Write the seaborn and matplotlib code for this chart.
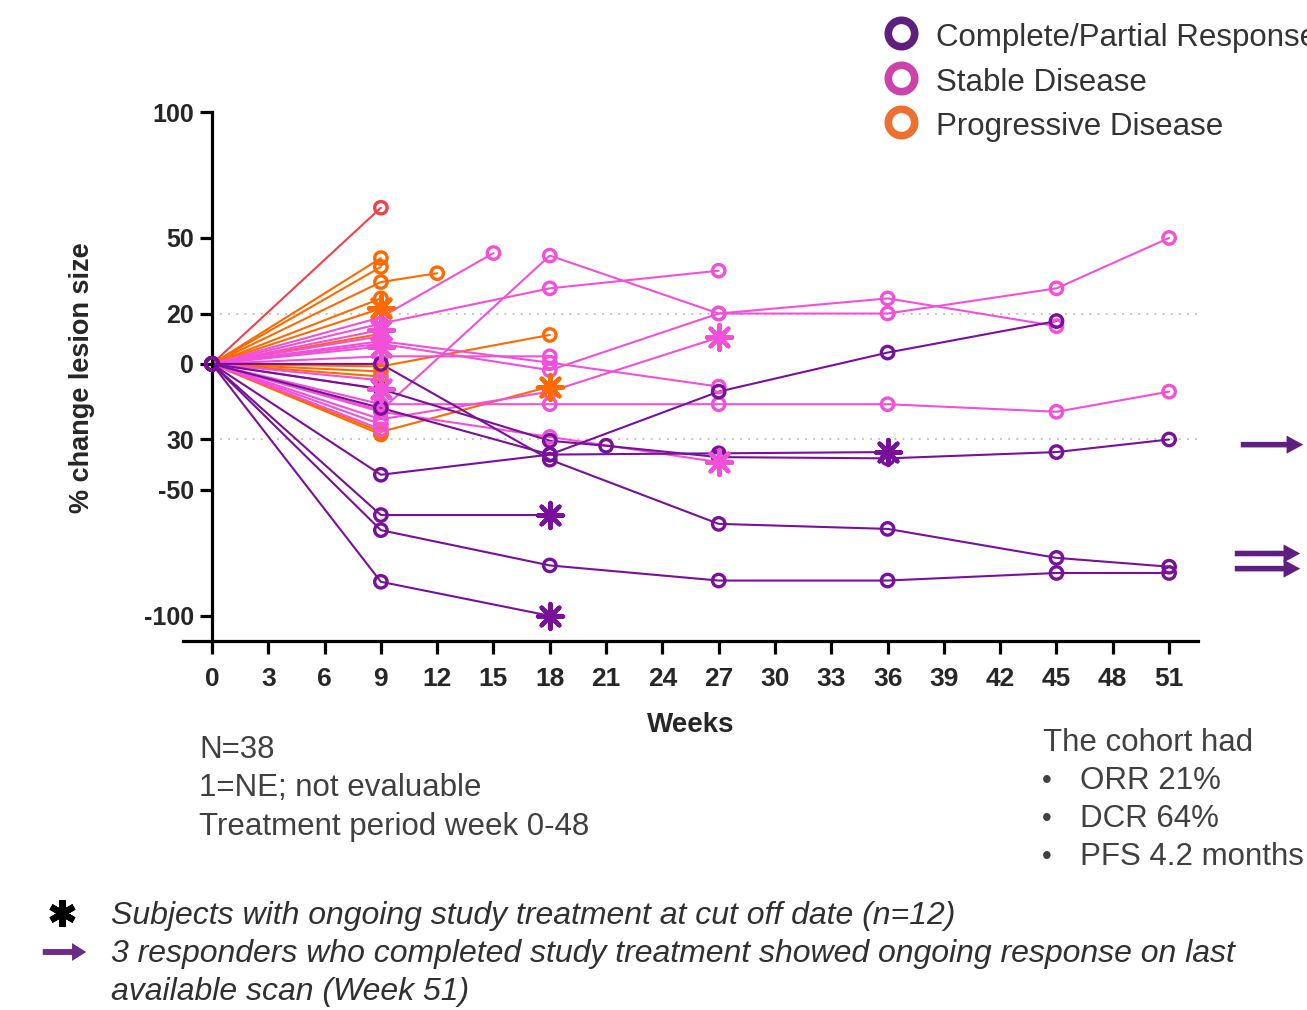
import numpy as np
import pandas as pd
import matplotlib
matplotlib.use('Agg')
from matplotlib import pyplot as plt
from matplotlib.lines import Line2D
from matplotlib.patches import FancyArrowPatch
import seaborn as sns

# ---- data: (weeks, % change, ongoing at cut-off) per subject ----
cr_subjects = [
    ([0, 9, 18, 27, 36], [0, -44, -36, -35.5, -35], True),
    ([0, 9, 18, 27, 36, 45], [0, -17.5, -36, -11, 4.5, 17], False),
    ([0, 9, 18], [0, -60, -60], True),
    ([0, 9, 18, 27, 36, 45, 51], [0, -66, -80, -86, -86, -83, -83], False),
    ([0, 9, 18], [0, -86.5, -100], True),
    ([0, 9, 18, 27, 36, 45, 51], [0, 0, -38, -63.5, -65.5, -77, -80.5], False),
    ([0, 9, 18, 21, 27, 36, 45, 51], [0, -10, -30.5, -32.5, -37, -37.5, -35, -30], False),
]
sd_subjects = [
    ([0, 9, 15], [0, 18.5, 44], False),
    ([0, 9, 18, 27, 36, 45, 51], [0, -18.5, 43, 20, 20, 30, 50], False),
    ([0, 9, 18, 27], [0, 16, 30, 37], False),
    ([0, 9, 18, 27, 36, 45], [0, 8, -2.5, 20, 26, 15], False),
    ([0, 9, 18, 27], [0, -22, -11, 10.5], True),
    ([0, 9, 18, 27, 36, 45, 51], [0, -16, -16, -16, -16, -19, -11], False),
    ([0, 9, 18, 27], [0, 9, 0.5, -9], False),
    ([0, 9, 18, 27], [0, -19, -29, -39], True),
    ([0, 9], [0, 13.5], True),
    ([0, 9], [0, 6.9], True),
    ([0, 9], [0, -10], True),
    ([0, 9], [0, 11], False),
    ([0, 9], [0, -6.5], False),
    ([0, 9], [0, -24], False),
    ([0, 9], [0, -26], False),
    ([0, 9, 18], [0, 3, 3], False),
]
pd_subjects = [
    ([0, 9], [0, 42], False),
    ([0, 9], [0, 38.5], False),
    ([0, 9, 12], [0, 32.5, 36], False),
    ([0, 9], [0, 26], False),
    ([0, 9], [0, 22], True),
    ([0, 9, 18], [0, -1, 11.5], False),
    ([0, 9, 18], [0, -27, -9], True),
    ([0, 9], [0, 12], False),
    ([0, 9], [0, -3], False),
    ([0, 9], [0, -5], False),
    ([0, 9], [0, -28], False),
]
ne_subjects = [
    ([0, 9], [0, 62], False),
]

group_colors = {'PD': '#FF6A00', 'NE': '#F2404C', 'SD': '#F250D8', 'CR': '#78109C'}
group_order = ['PD', 'NE', 'SD', 'CR']

ytick_vals = [100, 50, 20, 0, -30, -50, -100]
ytick_labels = ['100', '50', '20', '0', '30', '-50', '-100']
xtick_vals = list(range(0, 52, 3))

legend_labels = ['Complete/Partial Response', 'Stable Disease', 'Progressive Disease']
legend_colors = ['#5E1F7E', '#CC44AA', '#EE7030']
arrow_values = [-32, -75.2, -81.2]

# ---- long table ----
rows = []
sid = 0
for grp, subjects in [('PD', pd_subjects), ('NE', ne_subjects), ('SD', sd_subjects), ('CR', cr_subjects)]:
    for weeks, vals, ongoing in subjects:
        for i, (w, v) in enumerate(zip(weeks, vals)):
            rows.append(dict(subject=sid, group=grp, week=w, change=v,
                             star=(ongoing and i == len(weeks) - 1)))
        sid += 1
df = pd.DataFrame(rows)

sns.set_theme(style='ticks')
plt.rcParams['font.family'] = ['Liberation Sans', 'DejaVu Sans']

W, H = 1307, 1010
fig = plt.figure(figsize=(W / 100, H / 100), dpi=100)
ax = fig.add_axes([183 / W, 1 - 641 / H, (1198 - 183) / W, (641 - 112) / H])

sns.lineplot(data=df, x='week', y='change', hue='group', hue_order=group_order,
             palette=group_colors, units='subject', estimator=None, sort=False,
             lw=1.5, legend=False, ax=ax, zorder=2)

for grp in group_order:
    sub = df[(df.group == grp) & (~df.star)]
    ax.scatter(sub.week, sub.change, s=80, facecolors='none', edgecolors=group_colors[grp],
               linewidths=2.4, zorder=3, clip_on=False)
for grp in group_order:
    sub = df[(df.group == grp) & (df.star)]
    ax.scatter(sub.week, sub.change, s=330, marker=(8, 2, 0), color=group_colors[grp],
               linewidths=3, zorder=4, clip_on=False)

ax.set_xlim(-1.545, 52.54)
ax.set_ylim(-110, 100)
ax.hlines([20, -30], 0, 52.54, colors='#bdbdbd', linestyles=(0, (1, 3.5)), lw=1.3, zorder=0)

ax.spines['top'].set_visible(False)
ax.spines['right'].set_visible(False)
ax.spines['left'].set_position(('data', 0))
ax.spines['left'].set_bounds(-110, 100)
for s in ['left', 'bottom']:
    ax.spines[s].set_linewidth(2.3)
    ax.spines[s].set_color('black')
ax.set_yticks(ytick_vals)
ax.set_yticklabels(ytick_labels)
ax.set_xticks(xtick_vals)
ax.tick_params(axis='both', width=2.3, length=9, color='black')
ax.tick_params(axis='y', labelsize=18, pad=4)
ax.tick_params(axis='x', labelsize=19, pad=10)
for t in ax.get_xticklabels() + ax.get_yticklabels():
    t.set_fontweight('bold')
ax.set_xlabel('Weeks', fontsize=20, fontweight='bold', labelpad=15)
ax.set_ylabel('')
fig.text(82 / W, 1 - 378 / H, '% change lesion size', rotation=90, fontsize=19.5,
         fontweight='bold', ha='center', va='center')


def fx(x):
    return x / W


def fy(y):
    return 1 - y / H


# arrows to the right of the axes
for v, x0, x1 in zip(arrow_values, [1238, 1232, 1232], [1306, 1303, 1303]):
    py = 364 - v * 2.52
    fig.add_artist(FancyArrowPatch((fx(x0), fy(py)), (fx(x1), fy(py)), transform=fig.transFigure,
                                   arrowstyle='simple,head_length=0.6,head_width=0.65,tail_width=0.2',
                                   mutation_scale=20, color='#5E1F7E', lw=0))

# legend
for i, (lab, col) in enumerate(zip(legend_labels, legend_colors)):
    y = [33, 78, 122][i]
    fig.add_artist(Line2D([fx(901)], [fy(y)], marker='o', ms=19, mfc='white', mec=col, mew=5.5,
                          transform=fig.transFigure))
    fig.text(fx(936), fy(y + 5), lab, fontsize=22.5, color='#333333', va='center')

# notes
for y, s in zip([750, 788, 827], ['N=38', '1=NE; not evaluable', 'Treatment period week 0-48']):
    fig.text(fx(199), fy(y), s, fontsize=22.5, color='#404040', va='center')
fig.text(fx(1043), fy(743), 'The cohort had', fontsize=22.5, color='#404040', va='center')
for y, s in zip([781, 819, 857], ['ORR 21%', 'DCR 64%', 'PFS 4.2 months']):
    fig.text(fx(1042), fy(y), '\u2022', fontsize=20, color='#404040', va='center')
    fig.text(fx(1080), fy(y), s, fontsize=22.5, color='#404040', va='center')

# footnotes
fig.add_artist(Line2D([fx(62)], [fy(913)], marker=(6, 2, 0), ms=19, mew=4.5, color='black',
                      transform=fig.transFigure))
fig.add_artist(FancyArrowPatch((fx(40), fy(952)), (fx(89), fy(952)), transform=fig.transFigure,
                               arrowstyle='simple,head_length=0.6,head_width=0.75,tail_width=0.25',
                               mutation_scale=17, color='#6A2A85', lw=0))
for y, s in zip([916, 954, 992], ['Subjects with ongoing study treatment at cut off date (n=12)',
                                  '3 responders who completed study treatment showed ongoing response on last',
                                  'available scan (Week 51)']):
    fig.text(fx(111), fy(y), s, fontsize=23, style='italic', color='#303030', va='center')

fig.savefig('out.png', dpi=100)
